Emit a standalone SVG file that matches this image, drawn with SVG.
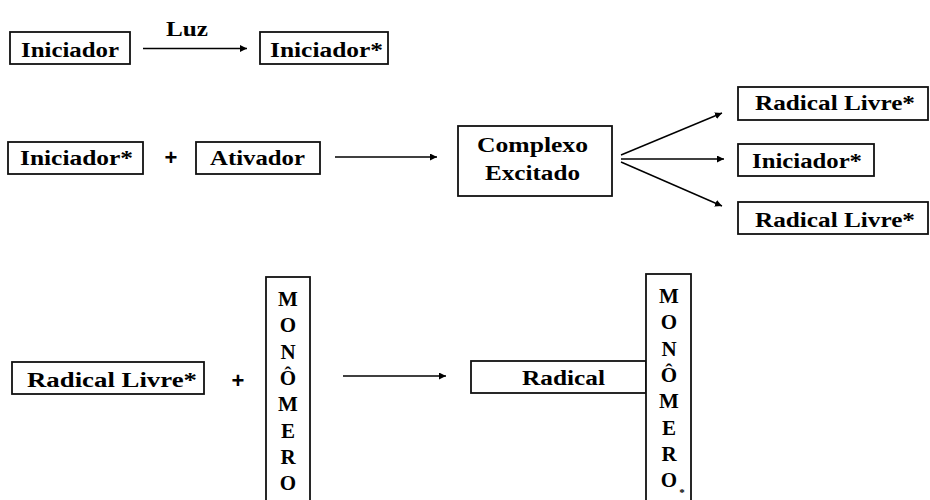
<svg xmlns="http://www.w3.org/2000/svg" width="930" height="500" viewBox="0 0 930 500">
  <style>
    .box { fill: #fff; stroke: #111; stroke-width: 1.8; }
    .lbl { font-family: "Liberation Serif", "Times New Roman", serif; font-weight: bold; font-size: 20px; fill: #000; text-anchor: middle; }
    .col { font-family: "Liberation Serif", "Times New Roman", serif; font-weight: bold; font-size: 21px; fill: #000; text-anchor: middle; }
    .op { font-family: "Liberation Sans", Arial, sans-serif; font-weight: bold; font-size: 22px; fill: #000; text-anchor: middle; }
    .edge { stroke: #000; stroke-width: 1.4; fill: none; marker-end: url(#head); }
  </style>
  <defs>
    <marker id="head" viewBox="0 0 10 10" refX="10" refY="5" markerUnits="userSpaceOnUse" markerWidth="7" markerHeight="7" orient="auto">
      <path d="M0,0 L10,5 L0,10 z" fill="#000"/>
    </marker>
  </defs>
  <rect width="930" height="500" fill="#fff"/>

  <!-- Row 1: photo-activation of the initiator -->
  <g id="iniciador">
    <rect class="box" x="10" y="32" width="120" height="32"/>
    <text class="lbl" x="70" y="57" textLength="98" lengthAdjust="spacingAndGlyphs">Iniciador</text>
  </g>
  <g id="iniciador-ativo-1">
    <rect class="box" x="260" y="32" width="128" height="32"/>
    <text class="lbl" x="326.5" y="57" textLength="113" lengthAdjust="spacingAndGlyphs">Iniciador*</text>
  </g>

  <!-- Row 2: excited complex formation -->
  <g id="iniciador-ativo-2">
    <rect class="box" x="8" y="142" width="135" height="32"/>
    <text class="lbl" x="76.5" y="165" textLength="113" lengthAdjust="spacingAndGlyphs">Iniciador*</text>
  </g>
  <g id="ativador">
    <rect class="box" x="196" y="142" width="124" height="32"/>
    <text class="lbl" x="257.5" y="165" textLength="95" lengthAdjust="spacingAndGlyphs">Ativador</text>
  </g>
  <g id="complexo">
    <rect class="box" x="458" y="126" width="154" height="70"/>
    <text class="lbl" x="532.5" y="152" textLength="111" lengthAdjust="spacingAndGlyphs">Complexo</text>
    <text class="lbl" x="532.5" y="180" textLength="95" lengthAdjust="spacingAndGlyphs">Excitado</text>
  </g>
  <g id="radical-livre-1">
    <rect class="box" x="738" y="87" width="190" height="33"/>
    <text class="lbl" x="835" y="110" textLength="160" lengthAdjust="spacingAndGlyphs">Radical Livre*</text>
  </g>
  <g id="iniciador-ativo-3">
    <rect class="box" x="738" y="144" width="136" height="32"/>
    <text class="lbl" x="807" y="168" textLength="110" lengthAdjust="spacingAndGlyphs">Iniciador*</text>
  </g>
  <g id="radical-livre-2">
    <rect class="box" x="738" y="202" width="190" height="32"/>
    <text class="lbl" x="835" y="227" textLength="160" lengthAdjust="spacingAndGlyphs">Radical Livre*</text>
  </g>

  <!-- Row 3: addition of the free radical to the monomer -->
  <g id="radical-livre-3">
    <rect class="box" x="12" y="362" width="192" height="32"/>
    <text class="lbl" x="112" y="387" textLength="170" lengthAdjust="spacingAndGlyphs">Radical Livre*</text>
  </g>
  <g id="monomero">
    <rect class="box" x="266" y="277" width="44" height="240"/>
    <text class="col" x="288" y="306">M</text>
    <text class="col" x="288" y="332.3">O</text>
    <text class="col" x="288" y="358.6">N</text>
    <text class="col" x="288" y="384.9">Ô</text>
    <text class="col" x="288" y="411.2">M</text>
    <text class="col" x="288" y="437.5">E</text>
    <text class="col" x="288" y="463.8">R</text>
    <text class="col" x="288" y="490.1">O</text>
  </g>
  <g id="radical">
    <rect class="box" x="471" y="361" width="175" height="32"/>
    <text class="lbl" x="563.5" y="385" textLength="83" lengthAdjust="spacingAndGlyphs">Radical</text>
  </g>
  <g id="monomero-ativo">
    <rect class="box" x="646" y="274" width="45" height="240"/>
    <text class="col" x="669" y="303">M</text>
    <text class="col" x="669" y="329.3">O</text>
    <text class="col" x="669" y="355.6">N</text>
    <text class="col" x="669" y="381.9">Ô</text>
    <text class="col" x="669" y="408.2">M</text>
    <text class="col" x="669" y="434.5">E</text>
    <text class="col" x="669" y="460.8">R</text>
    <text class="col" x="669" y="487.1">O</text>
    <text class="col" x="682" y="496" style="font-size:11px">*</text>
  </g>

  <!-- Operators -->
  <g id="operadores">
    <text class="op" x="171" y="165">+</text>
    <text class="op" x="238" y="388">+</text>
  </g>

  <!-- Reaction arrows -->
  <g id="conectores">
    <line class="edge" x1="143" y1="48.5" x2="247" y2="48.5"/>
    <text class="lbl" x="187" y="35.5" textLength="42" lengthAdjust="spacingAndGlyphs">Luz</text>
    <line class="edge" x1="335" y1="157" x2="437" y2="157"/>
    <line class="edge" x1="621" y1="155" x2="722" y2="113"/>
    <line class="edge" x1="621" y1="159" x2="724" y2="159"/>
    <line class="edge" x1="621" y1="162" x2="722" y2="206"/>
    <line class="edge" x1="343" y1="376" x2="446" y2="376"/>
  </g>
</svg>
